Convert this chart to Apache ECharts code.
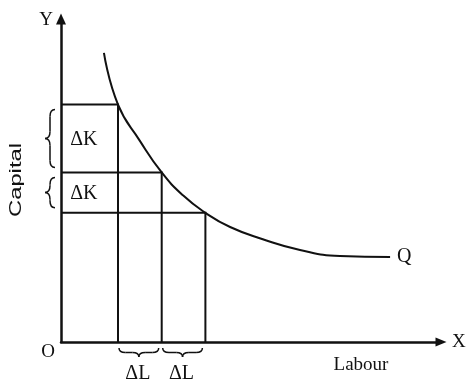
<!DOCTYPE html>
<html>
<head>
<meta charset="utf-8">
<script src="https://cdn.jsdelivr.net/npm/echarts@6/dist/echarts.min.js"></script>
<style>
  html, body { margin: 0; padding: 0; background: #ffffff; }
  #chart { width: 467px; height: 383px; }
</style>
</head>
<body>
<div id="chart"></div>
<script>
// Isoquant Q: labour (L) against capital (K)
const curveLabour  = [1.13, 1.5, 2.08, 2.65, 3.21, 3.8, 4.45, 5.29, 6.29, 7.34, 8.66];
const curveCapital = [8.95, 7.35, 6.22, 5.25, 4.54, 4.0, 3.56, 3.19, 2.85, 2.66, 2.63];

// Input combinations on the isoquant, marked with step lines
const stepLabour  = [1.5, 2.65, 3.8];
const stepCapital = [7.35, 5.25, 4.0];

// Texts
const deltaKLabels = ['ΔK', 'ΔK'];
const deltaLLabels = ['ΔL', 'ΔL'];
const curveName = 'Q';
const xAxisName = 'X';
const yAxisName = 'Y';
const xTitle = 'Labour';
const yTitle = 'Capital';
const originLabel = 'O';

const INK = '#111111';
const SERIF = '"Liberation Serif", "DejaVu Serif", serif';
const SANS = '"Liberation Sans", Arial, sans-serif';

// Curly brace from a to b (pixels), cusp pointing along unit normal n, depth d
function braceChildren(a, b, n, d) {
  const dx = b[0] - a[0], dy = b[1] - a[1];
  const len = Math.hypot(dx, dy);
  const t = [dx / len, dy / len];
  const P = (u, v) => [a[0] + t[0] * u + n[0] * v, a[1] + t[1] * u + n[1] * v];
  const h = d / 2, m = len / 2, q = Math.min(d * 0.7, len / 4);
  const style = { stroke: INK, lineWidth: 1.5, fill: 'none' };
  const quad = (p1, c, p2) => ({
    type: 'bezierCurve',
    shape: { x1: p1[0], y1: p1[1], cpx1: c[0], cpy1: c[1], x2: p2[0], y2: p2[1] },
    style: style
  });
  const seg = (p1, p2) => ({
    type: 'line',
    shape: { x1: p1[0], y1: p1[1], x2: p2[0], y2: p2[1] },
    style: style
  });
  return [
    quad(P(0, 0), P(0, h), P(q, h)),
    seg(P(q, h), P(m - q, h)),
    quad(P(m - q, h), P(m, h), P(m, d)),
    quad(P(m, d), P(m, h), P(m + q, h)),
    seg(P(m + q, h), P(len - q, h)),
    quad(P(len - q, h), P(len, h), P(len, 0))
  ];
}

function textEl(x, y, text, size, family) {
  return {
    type: 'text',
    x: x, y: y,
    style: {
      text: text, fontSize: size, fontFamily: family, fill: INK,
      align: 'center', verticalAlign: 'middle'
    }
  };
}

const stepData = stepLabour.map((l, i) => [l, stepCapital[i]]);
const kSpans = deltaKLabels.map((_, i) => [stepCapital[i + 1], stepCapital[i]]);
const lSpans = deltaLLabels.map((_, i) => [stepLabour[i], stepLabour[i + 1]]);

const chart = echarts.init(document.getElementById('chart'), null, { renderer: 'canvas' });

chart.setOption({
  backgroundColor: '#ffffff',
  animation: false,
  grid: { left: 61, right: 26, top: 19, bottom: 41, containLabel: false, outerBoundsMode: 'none' },
  xAxis: {
    type: 'value', min: 0, max: 10,
    name: xAxisName, nameLocation: 'end', nameGap: 11,
    nameTextStyle: { fontFamily: SERIF, fontSize: 19, color: INK, padding: [7, 0, 0, 0] },
    axisLine: { show: true, lineStyle: { color: INK, width: 2.5 }, symbol: ['none', 'triangle'], symbolSize: [9, 11] },
    axisTick: { show: false }, axisLabel: { show: false }, splitLine: { show: false }
  },
  yAxis: {
    type: 'value', min: 0, max: 10,
    name: yAxisName, nameLocation: 'end', nameGap: -1,
    nameTextStyle: { fontFamily: SERIF, fontSize: 19, color: INK, align: 'right', verticalAlign: 'middle', padding: [0, 8, 0, 0] },
    axisLine: { show: true, lineStyle: { color: INK, width: 2.5 }, symbol: ['none', 'triangle'], symbolSize: [10, 11] },
    axisTick: { show: false }, axisLabel: { show: false }, splitLine: { show: false }
  },
  series: [
    {
      name: curveName,
      type: 'line',
      data: curveLabour.map((l, i) => [l, curveCapital[i]]),
      smooth: 0.5,
      showSymbol: false,
      symbol: 'none',
      lineStyle: { color: INK, width: 2 },
      endLabel: { show: true, formatter: curveName, fontFamily: SERIF, fontSize: 20, color: INK, distance: 7 },
      z: 3
    },
    {
      // Staircase: (0,K) -> (L,K) -> (L,0)
      type: 'custom',
      data: stepData,
      renderItem: (params, api) => {
        const L = api.value(0), K = api.value(1);
        return {
          type: 'polyline',
          shape: { points: [api.coord([0, K]), api.coord([L, K]), api.coord([L, 0])] },
          style: { stroke: INK, lineWidth: 2, fill: 'none' }
        };
      },
      z: 2
    },
    {
      // ΔK braces left of the capital axis, labels inside the boxes
      type: 'custom',
      data: kSpans,
      renderItem: (params, api) => {
        const lo = api.coord([0, api.value(0)]);
        const hi = api.coord([0, api.value(1)]);
        const x = lo[0] - 6;
        const children = braceChildren([x, hi[1] + 5], [x, lo[1] - 5], [-1, 0], 10);
        const mid = api.coord([stepLabour[0] * 0.4, (api.value(0) + api.value(1)) / 2]);
        children.push(textEl(mid[0], mid[1] + 1, deltaKLabels[params.dataIndex], 20, SERIF));
        return { type: 'group', children: children };
      },
      z: 4
    },
    {
      // ΔL braces below the labour axis, labels underneath
      type: 'custom',
      data: lSpans,
      renderItem: (params, api) => {
        const a = api.coord([api.value(0), 0]);
        const b = api.coord([api.value(1), 0]);
        const y = a[1] + 6;
        const children = braceChildren([a[0] + 1, y], [b[0] - 3, y], [0, 1], 9);
        children.push(textEl((a[0] + b[0]) / 2 - 2, y + 26, deltaLLabels[params.dataIndex], 20, SERIF));
        return { type: 'group', children: children };
      },
      z: 4
    }
  ],
  graphic: [
    {
      type: 'text', x: 48, y: 352,
      style: { text: originLabel, fontFamily: SERIF, fontSize: 19, fill: INK, align: 'center', verticalAlign: 'middle' }
    },
    {
      type: 'text', x: 361, y: 365,
      style: { text: xTitle, fontFamily: SERIF, fontSize: 19, fill: INK, align: 'center', verticalAlign: 'middle' }
    },
    {
      type: 'text', x: 16, y: 180, rotation: Math.PI / 2, scaleX: 1.4,
      style: { text: yTitle, fontFamily: SANS, fontSize: 17, fill: INK, align: 'center', verticalAlign: 'middle' }
    }
  ]
});
</script>
</body>
</html>
